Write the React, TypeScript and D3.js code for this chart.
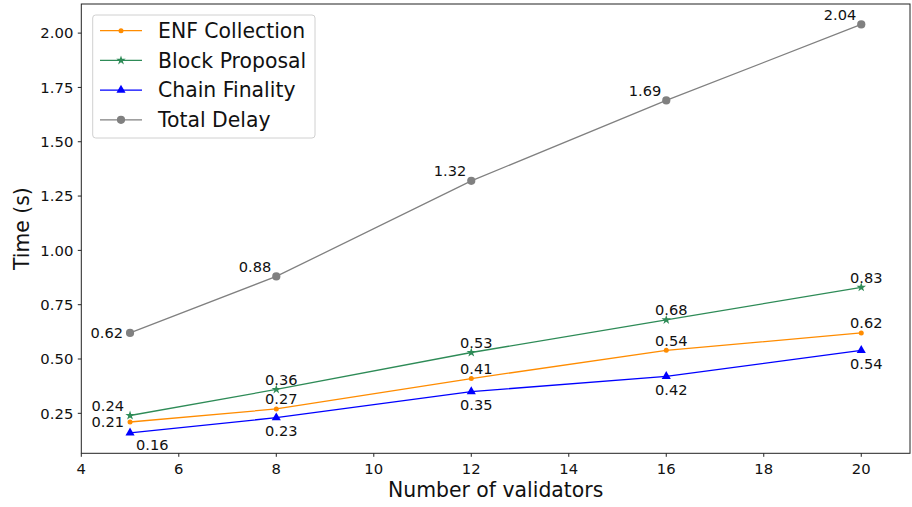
import React from 'react';
import * as d3 from 'd3';

const validators = [5, 8, 12, 16, 20];
const enfCollection = [0.21, 0.27, 0.41, 0.54, 0.62];
const blockProposal = [0.24, 0.36, 0.53, 0.68, 0.83];
const chainFinality = [0.16, 0.23, 0.35, 0.42, 0.54];
const totalDelay = [0.62, 0.88, 1.32, 1.69, 2.04];
const xTicks = [4, 6, 8, 10, 12, 14, 16, 18, 20];
const yTicks = [0.25, 0.5, 0.75, 1.0, 1.25, 1.5, 1.75, 2.0];

const W = 912;
const H = 507;
const left = 81.3, right = 910, top = 4, bottom = 453.3;
const font = 'DejaVu Sans, sans-serif';

type Series = {
  name: string;
  values: number[];
  color: string;
  marker: 'dot' | 'star' | 'triangle' | 'circle';
  // label placement: [anchor, dx, dy] for the first point and the rest
  first: [string, number, number];
  rest: [string, number, number];
};

const series: Series[] = [
  { name: 'ENF Collection', values: enfCollection, color: '#ff8c00', marker: 'dot', first: ['end', -6, 0], rest: ['middle', 5, -10] },
  { name: 'Block Proposal', values: blockProposal, color: '#2e8b57', marker: 'star', first: ['end', -6, -10], rest: ['middle', 5, -10] },
  { name: 'Chain Finality', values: chainFinality, color: '#0000ff', marker: 'triangle', first: ['start', 6, 12], rest: ['middle', 5, 13] },
  { name: 'Total Delay', values: totalDelay, color: '#808080', marker: 'circle', first: ['end', -7, 0], rest: ['end', -5, -10] },
];

const x = d3.scaleLinear().domain([4, 21]).range([left, right]);
const y = d3.scaleLinear().domain([0.066, 2.134]).range([bottom, top]);

const Marker = ({ kind, cx, cy, color }: { kind: string; cx: number; cy: number; color: string }) => {
  if (kind === 'dot') return <circle cx={cx} cy={cy} r={2.5} fill={color} />;
  if (kind === 'circle') return <circle cx={cx} cy={cy} r={4.1} fill={color} />;
  const type = kind === 'star' ? d3.symbolStar : d3.symbolTriangle;
  const size = kind === 'star' ? 28 : 36;
  return <path d={d3.symbol().type(type).size(size)() || ''} transform={`translate(${cx},${cy})`} fill={color} />;
};

const App = () => {
  const line = d3.line<number>().x((_, i) => x(validators[i])).y((v) => y(v));
  const fmt = d3.format('.2f');

  return (
    <svg width={W} height={H} style={{ position: 'absolute', left: 0, top: 0, background: '#fff' }} fontFamily={font}>
      {/* series */}
      {series.map((s) => (
        <g key={s.name}>
          <path d={line(s.values) || ''} fill="none" stroke={s.color} strokeWidth={1.3} />
          {s.values.map((v, i) => (
            <Marker key={i} kind={s.marker} cx={x(validators[i])} cy={y(v)} color={s.color} />
          ))}
          {s.values.map((v, i) => {
            const [anchor, dx, dy] = i === 0 ? s.first : s.rest;
            return (
              <text key={'t' + i} x={x(validators[i]) + dx} y={y(v) + dy} dy="0.36em" textAnchor={anchor as any} fontSize={14.6} fill="#111">
                {fmt(v)}
              </text>
            );
          })}
        </g>
      ))}

      {/* frame */}
      <rect x={left} y={top} width={right - left} height={bottom - top} fill="none" stroke="#222" strokeWidth={1} />

      {/* x axis */}
      {xTicks.map((t) => (
        <g key={t} transform={`translate(${x(t)},${bottom})`}>
          <line y2={3.5} stroke="#222" />
          <text y={20.3} textAnchor="middle" fontSize={14.8} fill="#111">{t}</text>
        </g>
      ))}
      <text x={(left + right) / 2} y={497} textAnchor="middle" fontSize={20.4} fill="#111">Number of validators</text>

      {/* y axis */}
      {yTicks.map((t) => (
        <g key={t} transform={`translate(${left},${y(t)})`}>
          <line x2={-3.5} stroke="#222" />
          <text x={-8} dy="0.36em" textAnchor="end" fontSize={14.8} fill="#111">{fmt(t)}</text>
        </g>
      ))}
      <text transform={`translate(29,${(top + bottom) / 2}) rotate(-90)`} textAnchor="middle" fontSize={20.4} fill="#111">Time (s)</text>

      {/* legend */}
      <g>
        <rect x={92.7} y={15} width={222.3} height={123} rx={3} fill="#fff" fillOpacity={0.8} stroke="#d0d0d0" />
        {series.map((s, i) => {
          const ly = 30.7 + i * 29.7;
          return (
            <g key={s.name}>
              <line x1={100} x2={142} y1={ly} y2={ly} stroke={s.color} strokeWidth={1.3} />
              <Marker kind={s.marker} cx={121} cy={ly} color={s.color} />
              <text x={158} y={ly} dy="0.36em" fontSize={20.4} fill="#111">{s.name}</text>
            </g>
          );
        })}
      </g>
    </svg>
  );
};

export default App;
